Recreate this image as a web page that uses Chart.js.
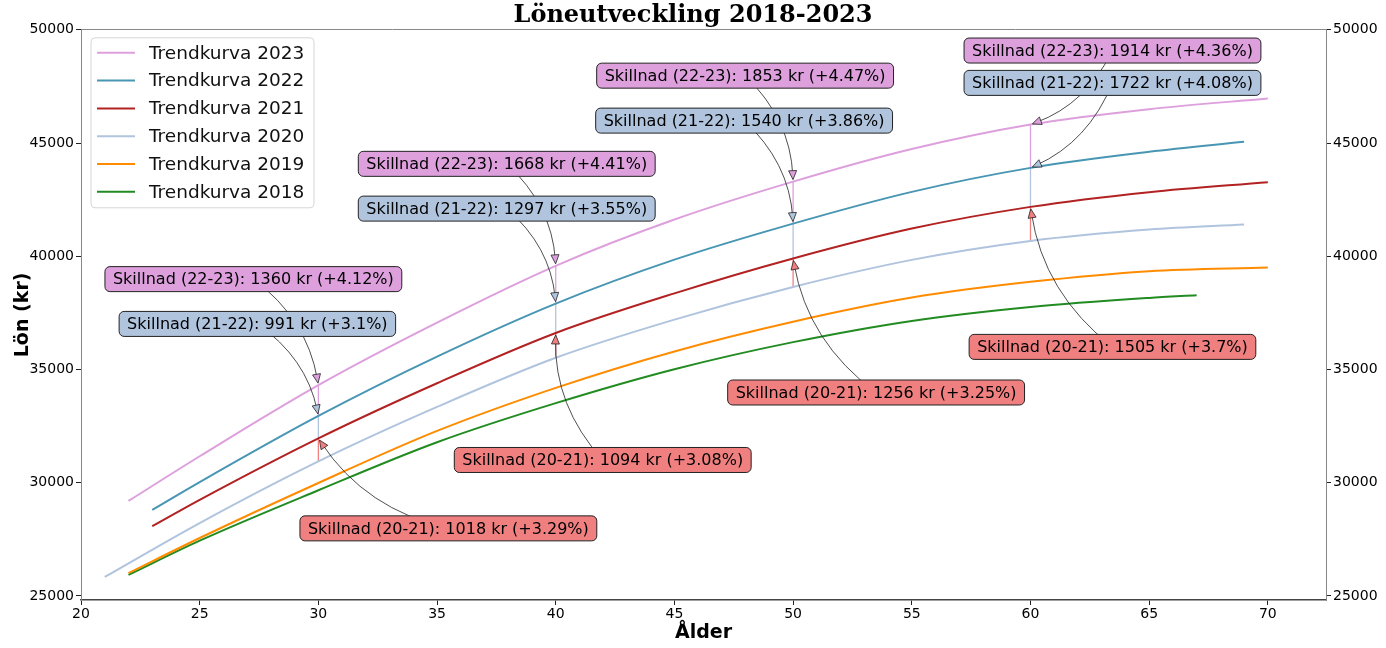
<!DOCTYPE html>
<html>
<head>
<meta charset="utf-8">
<title>Löneutveckling 2018-2023</title>
<script src="https://cdn.jsdelivr.net/npm/chart.js@4.4.0/dist/chart.umd.min.js"></script>
<style>
  html, body { margin: 0; padding: 0; background: #fff; }
  #wrap { width: 1386px; height: 648px; }
</style>
</head>
<body>
<div id="wrap"><canvas id="chart"></canvas></div>
<script>
// --- data ---
const ages2023 = [22, 25, 30, 35, 40, 45, 50, 55, 60, 65, 70];
const lon2023  = [29196, 31170, 34311, 37071, 39578, 41621, 43295, 44735, 45817, 46497, 46966];
const ages2022 = [23, 25, 30, 35, 40, 45, 50, 55, 60, 65, 69];
const lon2022  = [28800, 30030, 32951, 35570, 37910, 39850, 41442, 42844, 43903, 44611, 45053];
const ages2021 = [23, 25, 30, 35, 40, 45, 50, 55, 60, 65, 70];
const lon2021  = [28080, 29245, 31960, 34394, 36613, 38361, 39902, 41223, 42181, 42831, 43273];
const ages2020 = [21, 25, 30, 35, 40, 45, 50, 55, 60, 65, 69];
const lon2020  = [25840, 28220, 30942, 33348, 35519, 37204, 38646, 39841, 40676, 41179, 41400];
const ages2019 = [22, 25, 30, 35, 40, 45, 50, 55, 60, 65, 70];
const lon2019  = [26010, 27560, 29990, 32288, 34190, 35799, 37110, 38176, 38870, 39342, 39501];
const ages2018 = [22, 25, 30, 35, 40, 45, 50, 55, 60, 65, 67];
const lon2018  = [25930, 27443, 29668, 31789, 33515, 35013, 36210, 37147, 37760, 38162, 38282];

const diffAges = [30, 40, 50, 60];
const labels2223 = [
  'Skillnad (22-23): 1360 kr (+4.12%)',
  'Skillnad (22-23): 1668 kr (+4.41%)',
  'Skillnad (22-23): 1853 kr (+4.47%)',
  'Skillnad (22-23): 1914 kr (+4.36%)'
];
const labels2122 = [
  'Skillnad (21-22): 991 kr (+3.1%)',
  'Skillnad (21-22): 1297 kr (+3.55%)',
  'Skillnad (21-22): 1540 kr (+3.86%)',
  'Skillnad (21-22): 1722 kr (+4.08%)'
];
const labels2021 = [
  'Skillnad (20-21): 1018 kr (+3.29%)',
  'Skillnad (20-21): 1094 kr (+3.08%)',
  'Skillnad (20-21): 1256 kr (+3.25%)',
  'Skillnad (20-21): 1505 kr (+3.7%)'
];

const xTicks = [20, 25, 30, 35, 40, 45, 50, 55, 60, 65, 70];
const yTicks = [25000, 30000, 35000, 40000, 45000, 50000];

// --- layout of the text boxes (pixel offset from the arrow target) ---
const off2223 = [[-65, -106], [-49, -102], [-48, -106], [82, -74]];
const off2122 = [[-61, -92], [-49, -95], [-49, -103], [82, -85]];
const off2021 = [[130, 90], [47, 127], [83, 134], [82, 140]];

const PLUM = '#DDA0DD';
const STEEL = '#B0C4DE';
const CORAL = '#F08080';
const FONT = "'DejaVu Sans', sans-serif";

function valueAt(ages, values, age) {
  return values[ages.indexOf(age)];
}

function toPoints(ages, values) {
  return ages.map((a, i) => ({ x: a, y: values[i] }));
}

// vertical difference segments, one dataset per year pair, broken with nulls
function segments(agesLo, lo, agesHi, hi) {
  const pts = [];
  diffAges.forEach(a => {
    pts.push({ x: a, y: valueAt(agesLo, lo, a) });
    pts.push({ x: a, y: valueAt(agesHi, hi, a) });
    pts.push({ x: a, y: null });
  });
  return pts;
}

function curve(label, ages, values, color) {
  return {
    label: label,
    data: toPoints(ages, values),
    borderColor: color,
    backgroundColor: color,
    borderWidth: 2,
    pointRadius: 0,
    cubicInterpolationMode: 'monotone',
    fill: false
  };
}

function segSet(data, color) {
  return {
    label: '',
    data: data,
    borderColor: color,
    borderWidth: 1.3,
    pointRadius: 0,
    tension: 0,
    spanGaps: false,
    fill: false,
    skipLegend: true
  };
}

const datasets = [
  curve('Trendkurva 2023', ages2023, lon2023, PLUM),
  curve('Trendkurva 2022', ages2022, lon2022, '#4896B3'),
  curve('Trendkurva 2021', ages2021, lon2021, '#B22222'),
  curve('Trendkurva 2020', ages2020, lon2020, STEEL),
  curve('Trendkurva 2019', ages2019, lon2019, '#FF8C00'),
  curve('Trendkurva 2018', ages2018, lon2018, '#228B22'),
  segSet(segments(ages2022, lon2022, ages2023, lon2023), PLUM),
  segSet(segments(ages2021, lon2021, ages2022, lon2022), STEEL),
  segSet(segments(ages2020, lon2020, ages2021, lon2021), CORAL)
];

// --- annotations: curved arrows + rounded boxes ---
const annotationPlugin = {
  id: 'skillnad',
  afterDraw(chart) {
    const { ctx } = chart;
    const x = chart.scales.x, y = chart.scales.y;
    const items = [];
    diffAges.forEach((age, i) => {
      items.push({ age, val: valueAt(ages2023, lon2023, age), text: labels2223[i], off: off2223[i], color: PLUM });
      items.push({ age, val: valueAt(ages2022, lon2022, age), text: labels2122[i], off: off2122[i], color: STEEL });
      items.push({ age, val: valueAt(ages2021, lon2021, age), text: labels2021[i], off: off2021[i], color: CORAL });
    });
    const rad = 0.2;
    ctx.save();
    items.forEach(it => {
      const tx = x.getPixelForValue(it.age), ty = y.getPixelForValue(it.val);
      const sx = tx + it.off[0], sy = ty + it.off[1];
      const dx = tx - sx, dy = ty - sy;
      const cx = (sx + tx) / 2 + rad * dy, cy = (sy + ty) / 2 - rad * dx;
      let ux = tx - cx, uy = ty - cy;
      const L = Math.hypot(ux, uy);
      ux /= L; uy /= L;
      const ex = tx - ux * 2, ey = ty - uy * 2;
      ctx.beginPath();
      ctx.moveTo(sx, sy);
      ctx.quadraticCurveTo(cx, cy, ex - ux * 4, ey - uy * 4);
      ctx.strokeStyle = '#222';
      ctx.lineWidth = 0.8;
      ctx.stroke();
      const hl = 9, hw = 4;
      const bx = ex - ux * hl, by = ey - uy * hl;
      ctx.beginPath();
      ctx.moveTo(ex, ey);
      ctx.lineTo(bx - uy * hw, by + ux * hw);
      ctx.lineTo(bx + uy * hw, by - ux * hw);
      ctx.closePath();
      ctx.fillStyle = it.color;
      ctx.fill();
      ctx.stroke();
      it.sx = sx; it.sy = sy;
    });
    ctx.font = '16px ' + FONT;
    ctx.textAlign = 'center';
    ctx.textBaseline = 'middle';
    items.forEach(it => {
      const w = ctx.measureText(it.text).width + 16, h = 25;
      ctx.beginPath();
      ctx.roundRect(it.sx - w / 2, it.sy - h / 2, w, h, 5);
      ctx.fillStyle = it.color;
      ctx.fill();
      ctx.strokeStyle = '#222';
      ctx.lineWidth = 1;
      ctx.stroke();
      ctx.fillStyle = '#000';
      ctx.fillText(it.text, it.sx, it.sy + 1);
    });
    ctx.restore();
  }
};

// --- legend drawn inside the plot, top left ---
const boxLegend = {
  id: 'boxLegend',
  afterDraw(chart) {
    const { ctx, chartArea } = chart;
    const sets = chart.data.datasets.filter(d => !d.skipLegend);
    const left = chartArea.left + 10, top = chartArea.top + 8;
    const w = 223, h = 170;
    ctx.save();
    ctx.beginPath();
    ctx.roundRect(left, top, w, h, 4);
    ctx.fillStyle = 'rgba(255,255,255,0.8)';
    ctx.fill();
    ctx.strokeStyle = '#d5d5d5';
    ctx.lineWidth = 1;
    ctx.stroke();
    ctx.font = '18.5px ' + FONT;
    ctx.textBaseline = 'middle';
    ctx.textAlign = 'left';
    sets.forEach((d, i) => {
      const cy = top + 15 + i * 27.8;
      ctx.beginPath();
      ctx.moveTo(left + 6, cy);
      ctx.lineTo(left + 44, cy);
      ctx.strokeStyle = d.borderColor;
      ctx.lineWidth = 2;
      ctx.stroke();
      ctx.fillStyle = '#111';
      ctx.fillText(d.label, left + 58, cy + 1);
    });
    ctx.restore();
  }
};

const tickFont = { family: FONT, size: 14 };
const yScale = (position, width) => ({
  type: 'linear',
  position: position,
  min: 24823,
  max: 50000,
  afterBuildTicks: s => { s.ticks = yTicks.map(v => ({ value: v })); },
  afterFit: s => { s.width = width; },
  ticks: { font: tickFont, color: '#000', padding: 2, callback: v => String(v) },
  grid: { display: true, drawOnChartArea: false, drawTicks: true, tickLength: 5, color: '#222' },
  border: { display: true, color: '#888', width: 1 }
});

const ctx = document.getElementById('chart').getContext('2d');
new Chart(ctx, {
  type: 'line',
  data: { datasets: datasets },
  plugins: [annotationPlugin, boxLegend],
  options: {
    responsive: true,
    maintainAspectRatio: false,
    animation: false,
    devicePixelRatio: 1,
    layout: { padding: 0 },
    plugins: {
      legend: { display: false },
      tooltip: { enabled: false },
      title: {
        display: true,
        text: 'Löneutveckling 2018-2023',
        color: '#000',
        font: { family: "'DejaVu Serif', serif", size: 24, weight: 'bold' },
        padding: { top: 1, bottom: 0 }
      }
    },
    scales: {
      x: {
        type: 'linear',
        position: 'bottom',
        min: 20,
        max: 72.45,
        afterBuildTicks: s => { s.ticks = xTicks.map(v => ({ value: v })); },
        afterFit: s => { s.height = 48; },
        ticks: { font: tickFont, color: '#000', padding: 1, maxRotation: 0 },
        grid: { display: true, drawOnChartArea: false, drawTicks: true, tickLength: 5, color: '#222' },
        border: { display: true, color: '#444', width: 1.5 },
        title: {
          display: true,
          text: 'Ålder',
          color: '#000',
          font: { family: FONT, size: 19, weight: 'bold' },
          padding: { top: 0, bottom: 4 }
        }
      },
      xTop: {
        type: 'linear',
        position: 'top',
        min: 20,
        max: 72.45,
        afterFit: s => { s.height = 0; },
        ticks: { display: false },
        grid: { display: false },
        border: { display: true, color: '#888', width: 1 }
      },
      y: Object.assign(yScale('left', 81), {
        title: {
          display: true,
          text: 'Lön (kr)',
          color: '#000',
          font: { family: FONT, size: 19, weight: 'bold' },
          padding: { top: 12, bottom: 0 }
        }
      }),
      y2: yScale('right', 60)
    }
  }
});
</script>
</body>
</html>
